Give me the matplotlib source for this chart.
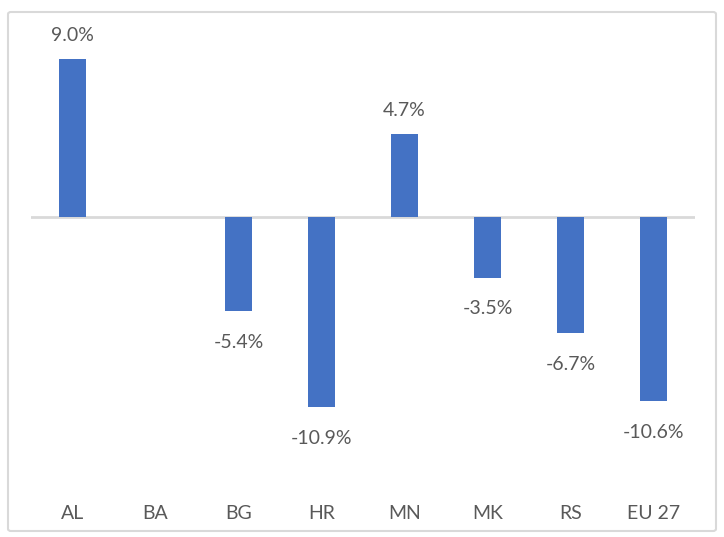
import matplotlib
matplotlib.use("Agg")
import matplotlib.pyplot as plt
from matplotlib.patches import FancyBboxPatch

categories = ["AL", "BA", "BG", "HR", "MN", "MK", "RS", "EU 27"]
values = [9.0, None, -5.4, -10.9, 4.7, -3.5, -6.7, -10.6]
labels = ["9.0%", "", "-5.4%", "-10.9%", "4.7%", "-3.5%", "-6.7%", "-10.6%"]

W, H = 724, 537
fig = plt.figure(figsize=(W / 100, H / 100), dpi=100)
plt.rcParams['font.family'] = ['Lato', 'DejaVu Sans']

# outer border
border = FancyBboxPatch((8 / W, 6 / H), 708 / W, (H - 12 - 6) / H,
                        boxstyle="round,pad=0,rounding_size=0.004",
                        transform=fig.transFigure, facecolor="none",
                        edgecolor="#D9D9D9", linewidth=1.5, zorder=-1)
fig.patches.append(border)

top_px, bot_px = 30, 490
zero_px = 216.5
scale = 17.45
ax = fig.add_axes([31 / W, (H - bot_px) / H, 664 / W, (bot_px - top_px) / H])
ax.set_ylim(-(bot_px - zero_px) / scale, (zero_px - top_px) / scale)
ax.set_xlim(-0.5, len(categories) - 0.5)
ax.patch.set_alpha(0)

xs = list(range(len(categories)))
vals = [v if v is not None else 0 for v in values]
ax.bar(xs, vals, width=0.315, color="#4472C4", zorder=2)
ax.axhline(0, color="#D9D9D9", linewidth=2, zorder=1)

for x, v, lab in zip(xs, values, labels):
    if v is None:
        continue
    if v >= 0:
        ax.annotate(lab, (x, v), xytext=(0, 11), textcoords="offset points",
                    ha="center", va="bottom", fontsize=14, color="#595959")
    else:
        ax.annotate(lab, (x, v), xytext=(0, -16.5), textcoords="offset points",
                    ha="center", va="top", fontsize=14, color="#595959")

ax.set_yticks([])
ax.set_xticks(xs)
ax.set_xticklabels(categories, fontsize=14, color="#595959")
ax.tick_params(axis="x", length=0, pad=11)
for s in ax.spines.values():
    s.set_visible(False)

fig.savefig("out.png", dpi=100)
